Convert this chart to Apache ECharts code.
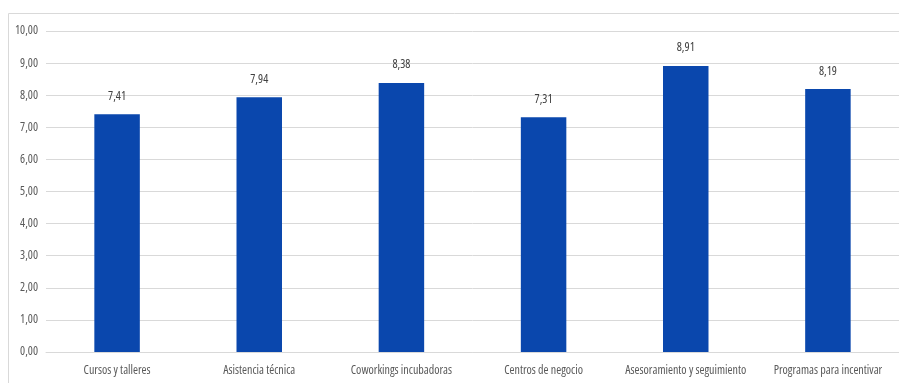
<!DOCTYPE html>
<html><head><meta charset="utf-8">
<script src="https://cdn.jsdelivr.net/npm/echarts@6/dist/echarts.min.js"></script>
<style>html,body{margin:0;padding:0;background:#fff}#c{width:899px;height:383px}</style>
</head><body><div id="c"></div>
<script>
const categories = ["Cursos y talleres","Asistencia técnica","Coworkings incubadoras","Centros de negocio","Asesoramiento y seguimiento","Programas para incentivar"];
const values = [7.41, 7.94, 8.38, 7.31, 8.91, 8.19];
const yMin = 0, yMax = 10, yStep = 1;
const FONT = '"Open Sans", "Liberation Sans", sans-serif';
const W = 'condensed';
const fmt = v => v.toFixed(2).replace('.', ',');
const chart = echarts.init(document.getElementById('c'), null, {renderer:'canvas'});
chart.setOption({
  animation:false,
  graphic:[{type:'rect', shape:{x:8.5,y:13.5,width:900,height:400}, style:{fill:'none', stroke:'#d9d9d9', lineWidth:1}, silent:true}],
  grid:{left:46, right:0, top:31, bottom:31, containLabel:false},
  xAxis:{type:'category', data:categories,
    axisLine:{show:true, lineStyle:{color:'#d9d9d9'}}, axisTick:{show:false},
    axisLabel:{color:'#595959', fontFamily:FONT, fontWeight:W, fontSize:12, margin:13, interval:0}},
  yAxis:{type:'value', min:yMin, max:yMax, interval:yStep,
    axisLine:{show:false}, axisTick:{show:false},
    splitLine:{lineStyle:{color:'#d9d9d9'}},
    axisLabel:{color:'#595959', fontFamily:FONT, fontWeight:W, fontSize:12, margin:8, formatter:v=>fmt(v)}},
  series:[{type:'bar', data:values, barWidth:'32%',
    itemStyle:{color:'#0a47ad'},
    label:{show:true, position:'top', distance:12, color:'#404040', fontFamily:FONT, fontWeight:W, fontSize:12, formatter:p=>fmt(p.value)}}]
});
</script></body></html>
